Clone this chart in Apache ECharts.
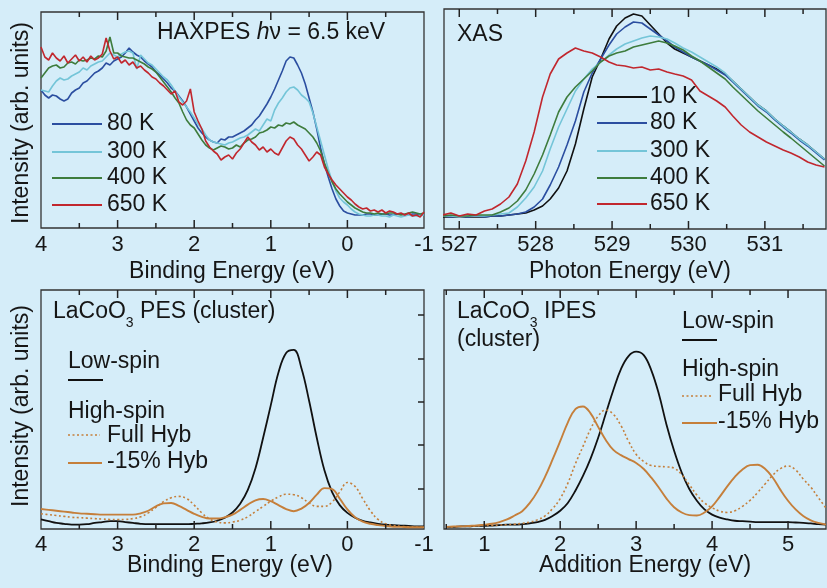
<!DOCTYPE html>
<html><head><meta charset="utf-8">
<script src="https://cdn.jsdelivr.net/npm/echarts@6/dist/echarts.min.js"></script>
<style>html,body{margin:0;padding:0;background:#d5edf9}#c{width:827px;height:588px}</style>
</head><body><div id="c"></div><script>
// ---------- DATA ----------
const haxpesEnergy = [4.00,3.95,3.90,3.85,3.80,3.75,3.70,3.65,3.60,3.55,3.50,3.45,3.40,3.35,3.30,3.25,3.20,3.15,3.10,3.05,3.00,2.95,2.90,2.85,2.80,2.75,2.70,2.65,2.60,2.55,2.50,2.45,2.40,2.35,2.30,2.25,2.20,2.15,2.10,2.05,2.00,1.95,1.90,1.85,1.80,1.75,1.70,1.65,1.60,1.55,1.50,1.45,1.40,1.35,1.30,1.25,1.20,1.15,1.10,1.05,1.00,0.95,0.90,0.85,0.80,0.75,0.70,0.65,0.60,0.55,0.50,0.45,0.40,0.35,0.30,0.25,0.20,0.15,0.10,0.05,0.00,-0.05,-0.10,-0.15,-0.20,-0.25,-0.30,-0.35,-0.40,-0.45,-0.50,-0.55,-0.60,-0.65,-0.70,-0.75,-0.80,-0.85,-0.90,-0.95,-1.00];
const haxpes80K = [139,134,131,134,133,130,128,130,136,139,141,146,148,152,156,158,161,166,164,168,170,172,176,181,177,174,172,168,165,162,157,154,150,146,141,138,133,128,122,115,108,101,96,92,89,87,86,90,89,92,92,94,96,98,101,104,109,113,119,125,132,140,149,158,168,172,171,164,156,145,131,117,100,81,65,52,40,30,23,18,16,15,14,14,14,15,15,14,14,15,15,14,14,15,15,14,14,15,15,14,14];
const haxpes300K = [139,138,137,143,148,151,149,150,153,155,157,161,159,163,165,167,168,172,176,174,172,175,177,178,176,160,174,170,166,164,160,156,152,149,144,138,132,127,122,117,111,105,100,94,89,87,86,85,84,86,87,89,91,92,94,97,100,98,104,110,108,119,126,131,137,141,142,139,134,131,127,116,102,88,74,60,48,38,31,27,24,20,17,15,14,13,13,14,14,13,13,12,14,13,12,13,14,13,13,14,14];
const haxpes400K = [151,156,161,163,164,161,162,166,167,165,169,168,169,171,170,173,172,178,192,176,176,173,172,171,171,169,167,165,162,160,157,152,147,142,137,131,126,117,109,104,101,95,89,84,81,79,81,83,82,80,81,84,82,86,89,90,92,96,97,99,102,101,104,103,106,105,107,104,102,100,96,92,86,78,66,56,47,40,35,31,27,24,21,19,17,16,16,15,16,15,15,16,16,15,14,15,16,17,16,15,16];
const haxpes650K = [182,172,169,176,171,168,173,166,170,174,168,172,167,173,169,171,175,191,178,170,172,166,169,164,167,161,163,159,156,152,150,146,143,139,135,138,127,124,128,140,117,108,100,88,82,78,75,69,72,74,70,76,80,86,92,87,84,79,82,77,80,76,74,81,88,92,90,84,80,74,68,72,77,74,62,55,49,44,40,36,32,29,25,22,20,21,18,19,17,19,16,18,17,15,16,14,16,13,14,12,17];

const xasEnergy = [526.78,526.89,527.00,527.11,527.22,527.33,527.43,527.54,527.65,527.76,527.87,527.98,528.09,528.19,528.30,528.41,528.52,528.63,528.74,528.85,528.96,529.06,529.17,529.28,529.39,529.50,529.61,529.72,529.82,529.93,530.04,530.15,530.26,530.37,530.48,530.58,530.69,530.80,530.91,531.02,531.13,531.24,531.34,531.45,531.56,531.67,531.78];
const xas10K = [12,12,12,12,12,12,13,13,14,15,16,19,23,30,41,58,85,120,152,170,190,203,211,215,213,204,195,186,180,176,172,168,164,160,155,148,140,132,124,118,110,103,97,90,84,77,70];
const xas80K = [13,12,13,12,13,12,13,13,14,15,17,22,30,44,62,84,108,137,156,170,184,195,202,207,206,200,194,188,182,177,172,168,164,159,154,147,139,131,123,117,109,102,96,89,83,76,69];
const xas300K = [13,13,12,13,13,13,14,15,16,22,31,42,58,80,102,120,138,150,160,167,174,180,185,188,191,193,192,190,186,181,177,172,167,162,156,148,140,132,124,118,110,103,97,90,84,77,70];
const xas400K = [13,14,13,13,14,14,14,17,21,28,39,55,74,94,117,132,142,150,158,167,173,176,178,182,184,186,188,186,183,179,173,168,162,156,150,142,134,126,118,111,104,97,91,84,77,70,63];
const xas650K = [14,16,13,15,14,18,20,25,32,45,68,97,132,155,170,176,181,178,176,172,167,164,163,161,162,159,160,157,155,153,149,138,133,128,122,113,104,97,92,87,83,79,76,72,67,64,62];

const pesEnergy = [4.0,3.9,3.8,3.7,3.6,3.5,3.4,3.3,3.2,3.1,3.0,2.9,2.8,2.7,2.6,2.5,2.4,2.3,2.2,2.1,2.0,1.9,1.8,1.7,1.6,1.5,1.4,1.3,1.2,1.1,1.0,0.9,0.8,0.7,0.6,0.5,0.4,0.3,0.2,0.1,0.0,-0.1,-0.2,-0.3,-0.4,-0.5,-0.6,-0.7,-0.8,-0.9,-1.0];
const pesLowSpin = [0.22,0.18,0.14,0.12,0.10,0.10,0.11,0.14,0.16,0.18,0.18,0.16,0.14,0.12,0.11,0.11,0.11,0.11,0.11,0.11,0.12,0.13,0.15,0.19,0.26,0.38,0.58,0.90,1.40,2.10,2.85,3.60,4.05,4.12,3.70,2.95,2.10,1.35,0.85,0.55,0.37,0.26,0.19,0.15,0.12,0.10,0.09,0.08,0.07,0.06,0.06];
const pesFullHyb = [0.35,0.33,0.31,0.29,0.27,0.26,0.25,0.24,0.23,0.22,0.22,0.22,0.24,0.28,0.37,0.50,0.63,0.72,0.75,0.70,0.55,0.37,0.23,0.16,0.14,0.16,0.20,0.28,0.40,0.52,0.64,0.74,0.80,0.79,0.72,0.60,0.52,0.52,0.62,0.85,1.07,0.98,0.70,0.42,0.22,0.12,0.08,0.06,0.05,0.04,0.04];
const pesHyb15 = [0.46,0.44,0.42,0.40,0.38,0.36,0.35,0.34,0.33,0.33,0.33,0.33,0.33,0.36,0.42,0.52,0.59,0.60,0.53,0.44,0.35,0.28,0.24,0.24,0.27,0.33,0.44,0.56,0.66,0.69,0.64,0.55,0.46,0.41,0.47,0.60,0.79,0.94,0.92,0.70,0.45,0.27,0.17,0.12,0.09,0.07,0.05,0.05,0.04,0.04,0.04];

const ipesEnergy = [0.5,0.6,0.7,0.8,0.9,1.0,1.1,1.2,1.3,1.4,1.5,1.6,1.7,1.8,1.9,2.0,2.1,2.2,2.3,2.4,2.5,2.6,2.7,2.8,2.9,3.0,3.1,3.2,3.3,3.4,3.5,3.6,3.7,3.8,3.9,4.0,4.1,4.2,4.3,4.4,4.5,4.6,4.7,4.8,4.9,5.0,5.1,5.2,5.3,5.4,5.5];
const ipesLowSpin = [0.05,0.05,0.06,0.06,0.07,0.07,0.08,0.09,0.10,0.10,0.11,0.13,0.16,0.21,0.30,0.42,0.60,0.88,1.22,1.62,2.10,2.65,3.20,3.68,3.98,4.08,4.00,3.65,3.10,2.40,1.80,1.30,0.92,0.65,0.45,0.33,0.26,0.22,0.19,0.18,0.17,0.16,0.16,0.16,0.16,0.16,0.15,0.14,0.13,0.11,0.10];
const ipesFullHyb = [0.05,0.05,0.06,0.06,0.07,0.08,0.08,0.09,0.10,0.11,0.13,0.16,0.21,0.30,0.47,0.70,1.05,1.50,1.90,2.30,2.60,2.74,2.64,2.38,2.02,1.72,1.55,1.46,1.44,1.43,1.40,1.25,1.02,0.78,0.60,0.49,0.41,0.38,0.42,0.52,0.66,0.84,1.04,1.24,1.39,1.45,1.36,1.15,0.96,0.72,0.48];
const ipesHyb15 = [0.05,0.06,0.06,0.07,0.08,0.10,0.12,0.16,0.22,0.31,0.41,0.60,0.86,1.20,1.60,2.02,2.45,2.76,2.82,2.66,2.35,2.05,1.82,1.70,1.61,1.52,1.38,1.18,0.95,0.70,0.50,0.38,0.32,0.31,0.38,0.52,0.74,0.98,1.20,1.37,1.47,1.48,1.38,1.18,0.90,0.65,0.45,0.30,0.20,0.14,0.10];

const haxpesMajorTicks = [4,3,2,1,0,-1];
const haxpesMinorTicks = [3.5,2.5,1.5,0.5,-0.5];
const xasMajorTicks = [527,528,529,530,531];
const xasMinorTicks = [527.5,528.5,529.5,530.5,531.5];
const ipesMajorTicks = [1,2,3,4,5];
const ipesMinorTicks = [0.5,1.5,2.5,3.5,4.5];
const intensityTicks = [1,2,3,4,5];

// ---------- STYLE ----------
const FONT = '"Liberation Sans", Arial, Helvetica, sans-serif';
const TXT = '#161616';
const AX = '#222222';
const COL = {b80:'#2b4ea0', c300:'#74c5d8', g400:'#3e7c3d', r650:'#c1272e', k:'#111111', o:'#c57f3b'};
const GRIDS = [
  {left:41, top:12, width:383, height:216},
  {left:444, top:9, width:382, height:220},
  {left:41, top:290, width:383, height:239},
  {left:444, top:290, width:382, height:239}
];
const XAX = [
  {g:0, min:-1, max:4, inverse:true, majors:haxpesMajorTicks, minors:haxpesMinorTicks, margin:6},
  {g:1, min:526.8, max:531.8, inverse:false, majors:xasMajorTicks, minors:xasMinorTicks, margin:5},
  {g:2, min:-1, max:4, inverse:true, majors:haxpesMajorTicks, minors:haxpesMinorTicks, margin:5},
  {g:3, min:0.47, max:5.5, inverse:false, majors:ipesMajorTicks, minors:ipesMinorTicks, margin:5}
];

function pairs(xs, ys){ return xs.map((x,i)=>[x, ys[i]]); }
const tickStyle = {color:AX, width:1.5};

function xAxisFor(a){
  return {gridIndex:a.g, type:'value', min:a.min, max:a.max, inverse:a.inverse, position:'bottom',
    axisLine:{show:false, onZero:false}, splitLine:{show:false}, axisTick:{show:false},
    axisLabel:{show:true, customValues:a.majors, margin:a.margin, fontSize:22, fontFamily:FONT, color:TXT}};
}
function line(g, xs, ys, color, width, extra){
  return Object.assign({type:'line', xAxisIndex:g, yAxisIndex:g, data:pairs(xs,ys), showSymbol:false, symbol:'none',
    lineStyle:{color:color, width:width}, itemStyle:{color:color}, silent:true, animation:false}, extra||{});
}
function txt(text, x, y, opts){
  return {type:'text', x:x, y:y, silent:true, rotation:(opts&&opts.rotation)||0,
    style:Object.assign({text:text, fill:TXT, font:'23px '+FONT, textAlign:'left', textVerticalAlign:'middle'}, (opts&&opts.style)||{})};
}
function seg(x1,y1,x2,y2,color,width,dash){
  return {type:'line', silent:true, z:100, shape:{x1:x1,y1:y1,x2:x2,y2:y2}, style:{stroke:color, lineWidth:width, lineDash:dash||null}};
}
const richMain = {fontSize:23, fontFamily:FONT, fill:TXT, lineHeight:30, verticalAlign:'top'};
const richSub = {fontSize:14, fontFamily:FONT, fill:TXT, lineHeight:14, verticalAlign:'bottom'};

const gridStyle = {show:true, borderColor:'#333333', borderWidth:1.3, backgroundColor:'transparent'};
const hiddenY = {type:'value', show:false, axisLine:{show:false, onZero:false}};

// axis tick marks (top and bottom edges, pointing inward), placed along each axis' extent
function tickMarks(){
  const out = [];
  XAX.forEach(a=>{
    const gr = GRIDS[a.g];
    const pos = v => { const f = (v - a.min)/(a.max - a.min); return a.inverse ? gr.left + gr.width*(1-f) : gr.left + gr.width*f; };
    const bot = gr.top + gr.height;
    [[a.majors, 8], [a.minors, 5]].forEach(([vals, len])=>{
      vals.forEach(v=>{
        if (v <= a.min || v >= a.max) return;
        const x = pos(v);
        out.push(seg(x, bot, x, bot - len, AX, 1.5));
        out.push(seg(x, gr.top, x, gr.top + len, AX, 1.5));
      });
    });
  });
  return out;
}

const graphics = [
    txt('Intensity (arb. units)', 22, 123, {rotation:Math.PI/2, style:{textAlign:'center'}}),
    txt('Intensity (arb. units)', 22, 406, {rotation:Math.PI/2, style:{textAlign:'center'}}),
    txt('Binding Energy (eV)', 232, 272, {style:{textAlign:'center'}}),
    txt('Photon Energy (eV)', 630, 272, {style:{textAlign:'center'}}),
    txt('Binding Energy (eV)', 230, 566, {style:{textAlign:'center'}}),
    txt('Addition Energy (eV)', 645, 566, {style:{textAlign:'center'}}),
    {type:'text', x:157, y:33, silent:true, style:{text:'{n|HAXPES }{i|h}{n|ν = 6.5 keV}', textVerticalAlign:'middle',
      rich:{n:{fontSize:23, fontFamily:FONT, fill:TXT}, i:{fontSize:23, fontFamily:FONT, fontStyle:'italic', fill:TXT}}}},
    txt('XAS', 457, 35),
    seg(52,124,102,124,COL.b80,2), txt('80 K',107,124),
    seg(52,152,102,152,COL.c300,2), txt('300 K',107,152),
    seg(52,178,102,178,COL.g400,2), txt('400 K',107,178),
    seg(52,205,102,205,COL.r650,2), txt('650 K',107,205),
    seg(597,97,647,97,COL.k,2), txt('10 K',650,97),
    seg(597,123,647,123,COL.b80,2), txt('80 K',650,123),
    seg(597,151,647,151,COL.c300,2), txt('300 K',650,151),
    seg(597,178,647,178,COL.g400,2), txt('400 K',650,178),
    seg(597,204,647,204,COL.r650,2), txt('650 K',650,204),
    {type:'text', x:53, y:315, silent:true, style:{text:'{a|LaCoO}{s|3}{a| PES (cluster)}', textVerticalAlign:'middle', rich:{a:richMain, s:richSub}}},
    txt('Low-spin', 68, 362),
    seg(68,380,103,380,COL.k,2),
    txt('High-spin', 68, 412),
    seg(68,435,100,435,COL.o,1.6,[2,2.5]), txt('Full Hyb',107,436),
    seg(68,463,102,463,COL.o,2), txt('-15% Hyb',107,462),
    {type:'text', x:457, y:315, silent:true, style:{text:'{a|LaCoO}{s|3}{a| IPES}', textVerticalAlign:'middle', rich:{a:richMain, s:richSub}}},
    txt('(cluster)', 457, 340),
    txt('Low-spin', 682, 322),
    seg(682,340,717,340,COL.k,2),
    txt('High-spin', 682, 370),
    seg(682,396,713,396,COL.o,1.6,[2,2.5]), txt('Full Hyb',718,395),
    seg(682,423,717,423,COL.o,2), txt('-15% Hyb',718,422)
].concat(tickMarks());

const option = {
  backgroundColor:'#d5edf9',
  animation:false,
  grid: GRIDS.map(g=>Object.assign({}, g, gridStyle)),
  xAxis: XAX.map(xAxisFor),
  yAxis:[
    Object.assign({gridIndex:0, min:1, max:217}, hiddenY),
    Object.assign({gridIndex:1, min:0, max:220}, hiddenY),
    Object.assign({gridIndex:2, min:0, max:5.5}, hiddenY),
    Object.assign({gridIndex:3, min:0, max:5.5}, hiddenY),
    {gridIndex:2, type:'value', min:0.06, max:5.58, position:'right', axisLine:{show:false, onZero:false}, splitLine:{show:false},
      axisLabel:{show:false}, axisTick:{show:true, inside:true, length:6, customValues:intensityTicks, lineStyle:tickStyle}}
  ],
  series:[
    line(0, haxpesEnergy, haxpes80K, COL.b80, 1.6),
    line(0, haxpesEnergy, haxpes300K, COL.c300, 1.6),
    line(0, haxpesEnergy, haxpes400K, COL.g400, 1.6),
    line(0, haxpesEnergy, haxpes650K, COL.r650, 1.6),
    line(1, xasEnergy, xas10K, COL.k, 1.6),
    line(1, xasEnergy, xas80K, COL.b80, 1.6),
    line(1, xasEnergy, xas300K, COL.c300, 1.6),
    line(1, xasEnergy, xas400K, COL.g400, 1.6),
    line(1, xasEnergy, xas650K, COL.r650, 1.6),
    line(2, pesEnergy, pesLowSpin, COL.k, 1.8, {smooth:0.4}),
    line(2, pesEnergy, pesFullHyb, COL.o, 1.6, {smooth:0.4, lineStyle:{color:COL.o, width:1.6, type:[2,2.5]}}),
    line(2, pesEnergy, pesHyb15, COL.o, 1.9, {smooth:0.4}),
    line(3, ipesEnergy, ipesLowSpin, COL.k, 1.8, {smooth:0.4}),
    line(3, ipesEnergy, ipesFullHyb, COL.o, 1.6, {smooth:0.4, lineStyle:{color:COL.o, width:1.6, type:[2,2.5]}}),
    line(3, ipesEnergy, ipesHyb15, COL.o, 1.9, {smooth:0.4})
  ],
  graphic: graphics
};
const chart = echarts.init(document.getElementById('c'), null, {renderer:'canvas', width:827, height:588});
chart.setOption(option);
</script></body></html>
